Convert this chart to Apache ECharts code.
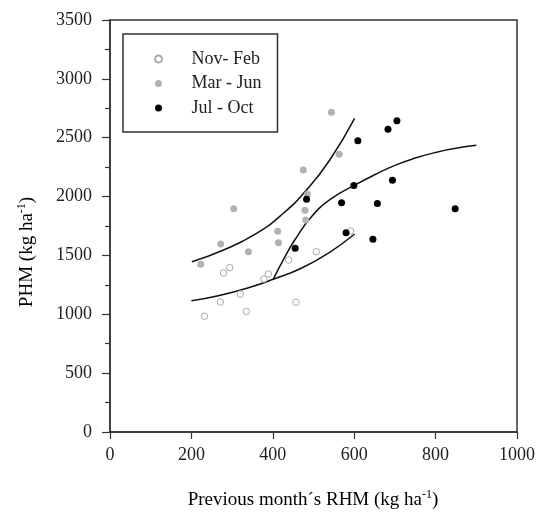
<!DOCTYPE html>
<html>
<head>
<meta charset="utf-8">
<script src="https://cdn.jsdelivr.net/npm/echarts@6/dist/echarts.min.js"></script>
<style>html,body{margin:0;padding:0;background:#fff}#c{width:538px;height:512px}</style>
</head>
<body>
<div id="c"></div>
<script>
// Nov - Feb (open circles)
const novFebX = [591, 507, 439, 389, 378, 294, 279, 320, 271, 335, 232, 457];
const novFebY = [1708, 1532, 1461, 1342, 1300, 1396, 1351, 1172, 1104, 1025, 983, 1102];
// Mar - Jun (grey)
const marJunX = [544, 563, 475, 485, 479, 481, 304, 412, 414, 272, 340, 223];
const marJunY = [2716, 2359, 2226, 2019, 1883, 1801, 1897, 1705, 1608, 1597, 1532, 1425];
// Jul - Oct (black)
const julOctX = [609, 599, 569, 483, 657, 580, 646, 455, 705, 683, 694, 848];
const julOctY = [2475, 2093, 1948, 1977, 1942, 1693, 1638, 1560, 2645, 2571, 2138, 1897];
// fitted curves
const marJunCurveX = [201, 279, 360, 426, 483, 540, 601];
const marJunCurveY = [1447, 1546, 1688, 1858, 2056, 2311, 2665];
const julOctCurveX = [401, 430, 454, 495, 545, 600, 650, 700, 750, 800, 850, 900];
const julOctCurveY = [1297, 1489, 1631, 1829, 1985, 2095, 2185, 2265, 2327, 2375, 2410, 2435];
const novFebCurveX = [200, 266, 348, 401, 470, 536, 601];
const novFebCurveY = [1115, 1158, 1234, 1297, 1391, 1518, 1682];
// axes
const xTicks = [0, 200, 400, 600, 800, 1000];
const yTicks = [0, 500, 1000, 1500, 2000, 2500, 3000, 3500];
const seriesNames = ['Nov- Feb', 'Mar - Jun', 'Jul - Oct'];

const zip = (xs, ys) => xs.map((x, i) => [x, ys[i]]);
const FONT = 'Liberation Serif';

const chart = echarts.init(document.getElementById('c'), null, {renderer: 'canvas'});
chart.setOption({
  animation: false,
  backgroundColor: '#fff',
  grid: {left: 110, right: 20, top: 20, bottom: 80, show: true, borderColor: '#333', borderWidth: 1.5, backgroundColor: 'transparent'},
  xAxis: {
    type: 'value', min: xTicks[0], max: xTicks[xTicks.length - 1], interval: 200,
    axisLine: {show: true, lineStyle: {color: '#333', width: 1.5}},
    axisTick: {show: true, length: 7, lineStyle: {color: '#333', width: 1.2}},
    axisLabel: {margin: 14, fontFamily: FONT, fontSize: 18, color: '#222', formatter: v => String(v)},
    splitLine: {show: false}
  },
  yAxis: {
    type: 'value', min: yTicks[0], max: yTicks[yTicks.length - 1], interval: 500,
    axisLine: {show: true, lineStyle: {color: '#333', width: 1.5}},
    axisTick: {show: true, length: 8, lineStyle: {color: '#333', width: 1.2}},
    minorTick: {show: true, splitNumber: 2, length: 5, lineStyle: {color: '#333', width: 1.2}},
    axisLabel: {margin: 18, fontFamily: FONT, fontSize: 18, color: '#222', formatter: v => String(v)},
    splitLine: {show: false}
  },
  legend: {
    data: seriesNames,
    orient: 'vertical', left: 123, top: 34,
    padding: [15, 16, 14, 31],
    itemWidth: 30, itemHeight: 7, itemGap: 4.5,
    borderColor: '#333', borderWidth: 1.5,
    textStyle: {fontFamily: FONT, fontSize: 18, color: '#222', lineHeight: 20, padding: [0, 0, 0, 13]}
  },
  graphic: [
    {type: 'text', x: 313, y: 500,
      style: {text: '{a|Previous month´s RHM (kg ha}{s|-1}{a|)}', align: 'center', verticalAlign: 'middle',
        rich: {a: {fontFamily: FONT, fontSize: 19, color: '#222', lineHeight: 22}, s: {fontFamily: FONT, fontSize: 12, color: '#222', verticalAlign: 'top', lineHeight: 22}}}},
    {type: 'text', x: 27, y: 252, rotation: Math.PI / 2,
      style: {text: '{a|PHM (kg ha}{s|-1}{a|)}', align: 'center', verticalAlign: 'middle',
        rich: {a: {fontFamily: FONT, fontSize: 19, color: '#222', lineHeight: 22}, s: {fontFamily: FONT, fontSize: 12, color: '#222', verticalAlign: 'top', lineHeight: 22}}}}
  ],
  series: [
    {name: seriesNames[0], type: 'scatter', data: zip(novFebX, novFebY), symbol: 'circle', symbolSize: 6.5,
      itemStyle: {color: '#fff', borderColor: '#aaa', borderWidth: 1, opacity: 1}, z: 3},
    {name: seriesNames[1], type: 'scatter', data: zip(marJunX, marJunY), symbol: 'circle', symbolSize: 7,
      itemStyle: {color: '#b3b3aa', opacity: 1}, z: 3},
    {name: seriesNames[2], type: 'scatter', data: zip(julOctX, julOctY), symbol: 'circle', symbolSize: 7,
      itemStyle: {color: '#000', opacity: 1}, z: 4},
    {name: 'fitMarJun', type: 'line', data: zip(marJunCurveX, marJunCurveY), smooth: 0.5, showSymbol: false,
      lineStyle: {color: '#111', width: 1.5}, z: 2},
    {name: 'fitJulOct', type: 'line', data: zip(julOctCurveX, julOctCurveY), smooth: 0.5, showSymbol: false,
      lineStyle: {color: '#111', width: 1.5}, z: 2},
    {name: 'fitNovFeb', type: 'line', data: zip(novFebCurveX, novFebCurveY), smooth: 0.5, showSymbol: false,
      lineStyle: {color: '#111', width: 1.5}, z: 2}
  ]
});
</script>
</body>
</html>
